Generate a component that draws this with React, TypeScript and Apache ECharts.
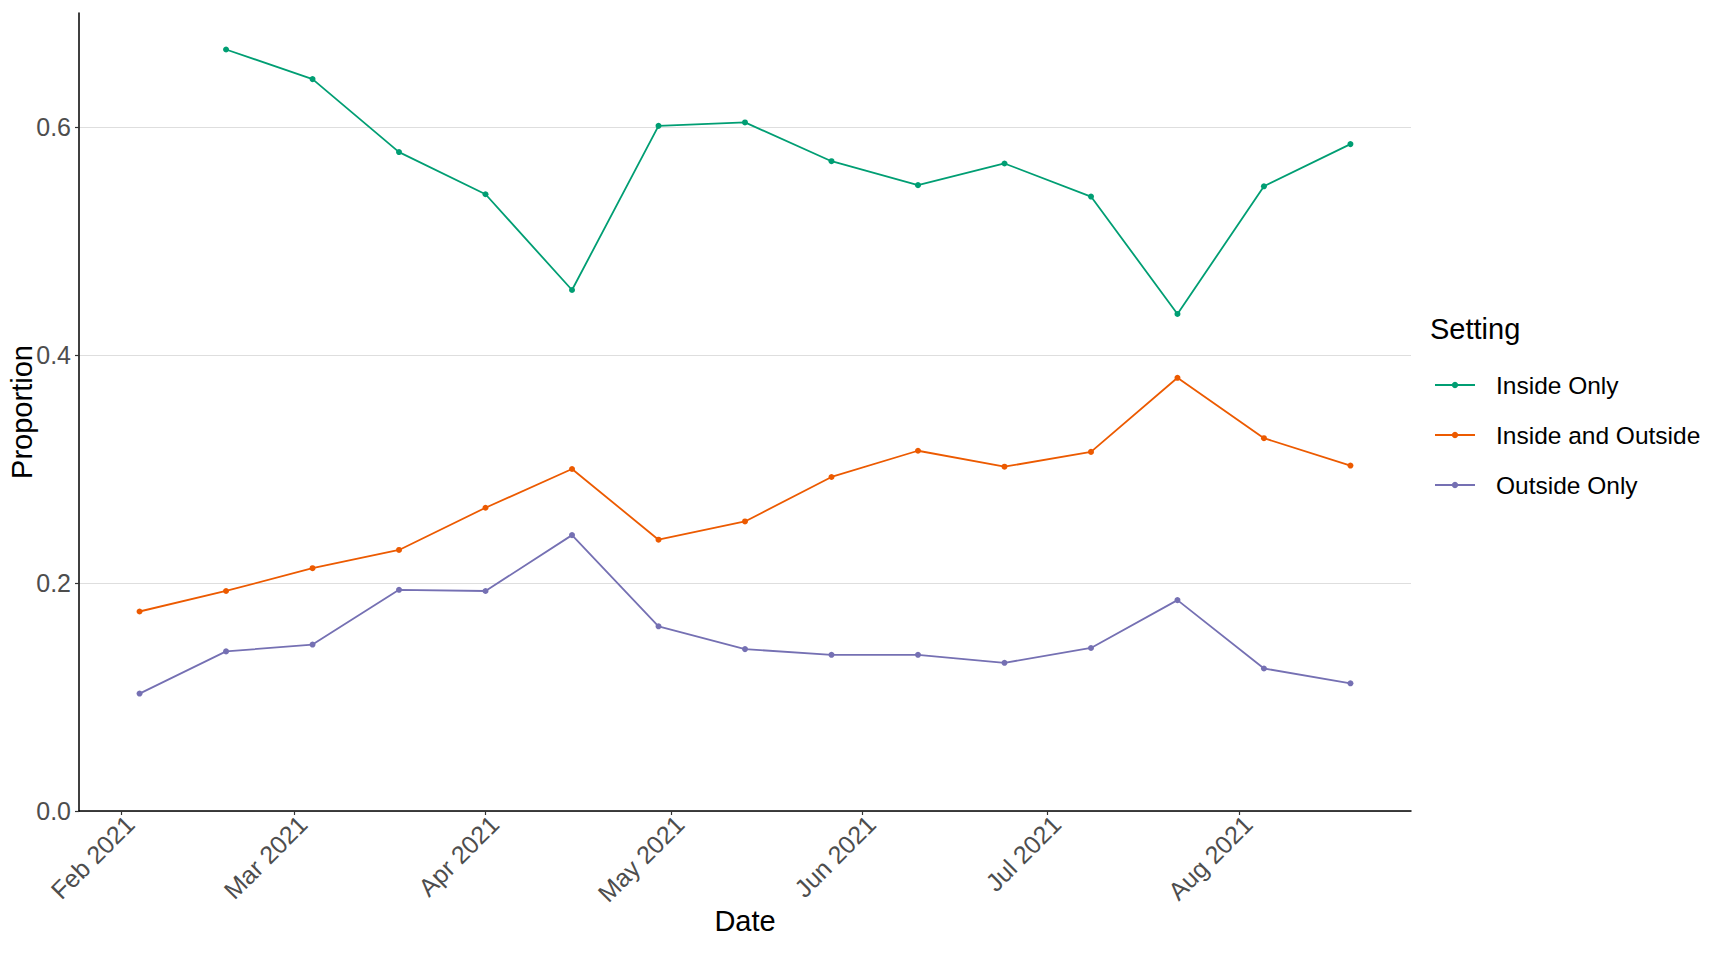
import React, { useEffect, useRef } from 'react';
import * as echarts from 'echarts';

// biweekly survey dates (year, month index, day)
const dates: [number, number, number][] = [
  [2021, 1, 4], [2021, 1, 18], [2021, 2, 4], [2021, 2, 18], [2021, 3, 1],
  [2021, 3, 15], [2021, 3, 29], [2021, 4, 13], [2021, 4, 27], [2021, 5, 10],
  [2021, 5, 24], [2021, 6, 8], [2021, 6, 22], [2021, 7, 5], [2021, 7, 19],
];

const insideOnly = [
  null, 0.668, 0.642, 0.578, 0.541, 0.457, 0.601, 0.604, 0.570, 0.549,
  0.568, 0.539, 0.436, 0.548, 0.585,
];
const insideAndOutside = [
  0.175, 0.193, 0.213, 0.229, 0.266, 0.300, 0.238, 0.254, 0.293, 0.316,
  0.302, 0.315, 0.380, 0.327, 0.303,
];
const outsideOnly = [
  0.103, 0.140, 0.146, 0.194, 0.193, 0.242, 0.162, 0.142, 0.137, 0.137,
  0.130, 0.143, 0.185, 0.125, 0.112,
];

const seriesNames = ['Inside Only', 'Inside and Outside', 'Outside Only'];
const seriesColors = ['#009E73', '#EC5A00', '#7570B3'];

const monthTicks: [number, number][] = [
  [2021, 1], [2021, 2], [2021, 3], [2021, 4], [2021, 5], [2021, 6], [2021, 7],
];
const monthNames = ['Jan', 'Feb', 'Mar', 'Apr', 'May', 'Jun', 'Jul', 'Aug', 'Sep', 'Oct', 'Nov', 'Dec'];
const yTicks = [0, 0.2, 0.4, 0.6];

const FONT = "'Liberation Sans', Arial, sans-serif";

const App: React.FC = () => {
  const chartRef = useRef<HTMLDivElement>(null);

  useEffect(() => {
    if (!chartRef.current) return;
    const chart = echarts.init(chartRef.current, null, { renderer: 'svg' });

    const times = dates.map(([y, m, d]) => new Date(y, m, d).getTime());
    const span = times[times.length - 1] - times[0];
    const xMin = times[0] - span * 0.05;
    const xMax = times[times.length - 1] + span * 0.05;
    const tickTimes = monthTicks.map(([y, m]) => new Date(y, m, 1).getTime());

    const toPairs = (vals: (number | null)[]) =>
      vals.map((v, i) => [times[i], v]).filter((p) => p[1] !== null);

    const allValues = [insideOnly, insideAndOutside, outsideOnly];

    chart.setOption({
      animation: false,
      backgroundColor: '#fff',
      textStyle: { fontFamily: FONT },
      title: {
        text: 'Setting',
        left: 1430,
        top: 314,
        padding: 0,
        textStyle: { fontSize: 29, fontWeight: 'normal', color: '#000', fontFamily: FONT },
      },
      legend: {
        data: seriesNames,
        orient: 'vertical',
        left: 1434,
        top: 372,
        padding: 0,
        itemWidth: 40,
        itemHeight: 8,
        itemGap: 24,
        textStyle: {
          fontSize: 24.5,
          color: '#000',
          fontFamily: FONT,
          lineHeight: 26,
          padding: [0, 0, 0, 16],
        },
      },
      grid: { left: 79, right: 311, top: 13, bottom: 143, containLabel: false, outerBoundsMode: 'none' },
      xAxis: {
        type: 'value',
        min: xMin,
        max: xMax,
        name: 'Date',
        nameLocation: 'middle',
        nameGap: 95,
        nameMoveOverlap: false,
        nameTextStyle: { fontSize: 29, color: '#000', fontFamily: FONT },
        axisLine: { show: true, lineStyle: { color: '#000', width: 1.5 } },
        axisTick: { show: true, length: 4, customValues: tickTimes, lineStyle: { color: '#333', width: 1.2 } },
        axisLabel: {
          customValues: tickTimes,
          rotate: 45,
          margin: 0,
          verticalAlign: 'top',
          fontSize: 25,
          color: '#4D4D4D',
          fontFamily: FONT,
          formatter: (v: number) => {
            const d = new Date(v);
            return `${monthNames[d.getMonth()]} ${d.getFullYear()}`;
          },
        },
        splitLine: { show: false },
      },
      yAxis: {
        type: 'value',
        min: 0,
        max: 0.7,
        name: 'Proportion',
        nameLocation: 'middle',
        nameGap: 43,
        nameMoveOverlap: false,
        nameTextStyle: { fontSize: 29, color: '#000', fontFamily: FONT },
        axisLine: { show: true, lineStyle: { color: '#000', width: 1.5 } },
        axisTick: { show: true, length: 4, customValues: yTicks, lineStyle: { color: '#333', width: 1.2 } },
        axisLabel: {
          customValues: yTicks,
          margin: 8,
          fontSize: 25,
          color: '#4D4D4D',
          fontFamily: FONT,
          formatter: (v: number) => v.toFixed(1),
        },
        splitLine: { show: true, lineStyle: { color: '#DEDEDE', width: 1.2 } },
      },
      series: seriesNames.map((name, i) => ({
        name,
        type: 'line',
        data: toPairs(allValues[i]),
        symbol: 'circle',
        symbolSize: 6,
        showSymbol: true,
        color: seriesColors[i],
        lineStyle: { color: seriesColors[i], width: 1.8 },
        itemStyle: { color: seriesColors[i] },
        emphasis: { disabled: true },
      })),
    });

    const handleResize = () => chart.resize();
    window.addEventListener('resize', handleResize);
    return () => {
      window.removeEventListener('resize', handleResize);
      chart.dispose();
    };
  }, []);

  return (
    <div
      ref={chartRef}
      style={{ position: 'absolute', left: 0, top: 0, width: '1722px', height: '954px', background: '#fff' }}
    />
  );
};

export default App;
